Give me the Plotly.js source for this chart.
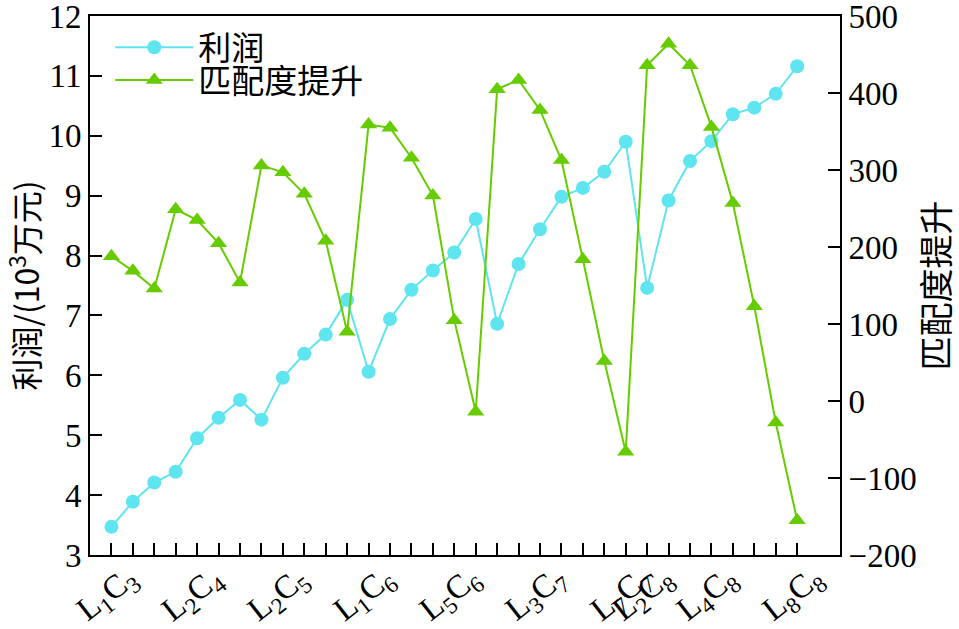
<!DOCTYPE html>
<html>
<head>
<meta charset="utf-8">
<script src="https://cdn.plot.ly/plotly-3.0.1.min.js"></script>
<style>html,body{margin:0;padding:0;background:#fff;}#chart{width:959px;height:629px;}</style>
</head>
<body>
<div id="chart"></div>
<script>
// category index (33 combinations along the x axis)
const idx = Array.from({length: 33}, (_, i) => i);
// labelled tick positions and their labels
const labelIdx = [0, 4, 8, 12, 16, 20, 24, 25, 28, 32];
const labelText = ["L<sub>1</sub>C<sub>3</sub>", "L<sub>2</sub>C<sub>4</sub>", "L<sub>2</sub>C<sub>5</sub>",
  "L<sub>1</sub>C<sub>6</sub>", "L<sub>5</sub>C<sub>6</sub>", "L<sub>3</sub>C<sub>7</sub>",
  "L<sub>7</sub>C<sub>7</sub>", "L<sub>2</sub>C<sub>8</sub>", "L<sub>4</sub>C<sub>8</sub>", "L<sub>8</sub>C<sub>8</sub>"];
// 利润 (10^3 万元)
const profit = [3.47, 3.89, 4.21, 4.39, 4.95, 5.29, 5.59, 5.26, 5.96, 6.36, 6.68, 7.26, 6.06, 6.94, 7.43, 7.75,
  8.05, 8.61, 6.86, 7.86, 8.44, 8.98, 9.13, 9.40, 9.90, 7.46, 8.92, 9.58, 9.91, 10.36, 10.47, 10.70, 11.16];
// 匹配度提升
const improve = [188, 169, 146, 249, 235, 205, 154, 306, 297, 269, 208, 90, 359, 355, 316, 267,
  105, -14, 405, 417, 378, 313, 184, 52, -66, 436, 464, 436, 356, 257, 123, -28, -155];

const cyan = "#5EE5F0", green = "#66CC00";
const serif = "Liberation Serif";
const cjk = "Noto Sans CJK SC";

const traces = [
  {x: idx, y: profit, name: "利润", type: "scatter", mode: "lines+markers", legend: "legend",
   line: {color: cyan, width: 2}, marker: {symbol: "circle", size: 14, color: cyan}, yaxis: "y"},
  {x: idx, y: improve, name: "匹配度提升", type: "scatter", mode: "lines+markers", legend: "legend2",
   line: {color: green, width: 2}, marker: {symbol: "triangle-up", size: 15, color: green}, yaxis: "y2"}
];

// category labels drawn as rotated text under the axis, positioned by the x scale
const labelAnnots = labelIdx.map((xi, k) => ({
  x: xi, xref: "x", y: 3, yref: "y", yshift: -40, xshift: -4,
  text: labelText[k], showarrow: false, textangle: -38,
  font: {family: serif, size: 33, color: "#000"}
}));

const legendBase = {xanchor: "left", yanchor: "middle", bgcolor: "rgba(0,0,0,0)",
  font: {family: cjk, size: 33, color: "#000"}, itemwidth: 78};

const layout = {
  width: 959, height: 629,
  margin: {l: 90, r: 119, t: 16, b: 74},
  paper_bgcolor: "#fff", plot_bgcolor: "#fff",
  showlegend: true,
  legend: Object.assign({x: 0.027, y: 0.942}, legendBase),
  legend2: Object.assign({x: 0.027, y: 0.881}, legendBase),
  annotations: labelAnnots,
  xaxis: {range: [-1, 34], tickvals: idx, showticklabels: false,
          ticks: "inside", ticklen: 12, tickwidth: 2, tickcolor: "#000",
          showline: true, linecolor: "#000", linewidth: 2, mirror: true,
          showgrid: false, zeroline: false},
  yaxis: {range: [3, 12], dtick: 1, ticks: "inside", ticklen: 12, tickwidth: 2, tickcolor: "#000",
          showline: true, linecolor: "#000", linewidth: 2, showgrid: false, zeroline: false,
          ticklabeloverflow: "allow",
          tickfont: {family: serif, size: 33, color: "#000"},
          title: {text: "利润/(10<sup>3</sup>万元)", font: {family: cjk, size: 32, color: "#000"}, standoff: 1}},
  yaxis2: {range: [-200, 500], dtick: 100, overlaying: "y", side: "right",
           ticks: "inside", ticklen: 12, tickwidth: 2, tickcolor: "#000",
           showline: true, linecolor: "#000", linewidth: 2, showgrid: false, zeroline: false,
           ticklabeloverflow: "allow",
           tickfont: {family: serif, size: 33, color: "#000"},
           title: {text: "匹配度提升", font: {family: cjk, size: 34, color: "#000"}, standoff: 12}}
};

Plotly.newPlot("chart", traces, layout, {displayModeBar: false, staticPlot: true});
</script>
</body>
</html>
